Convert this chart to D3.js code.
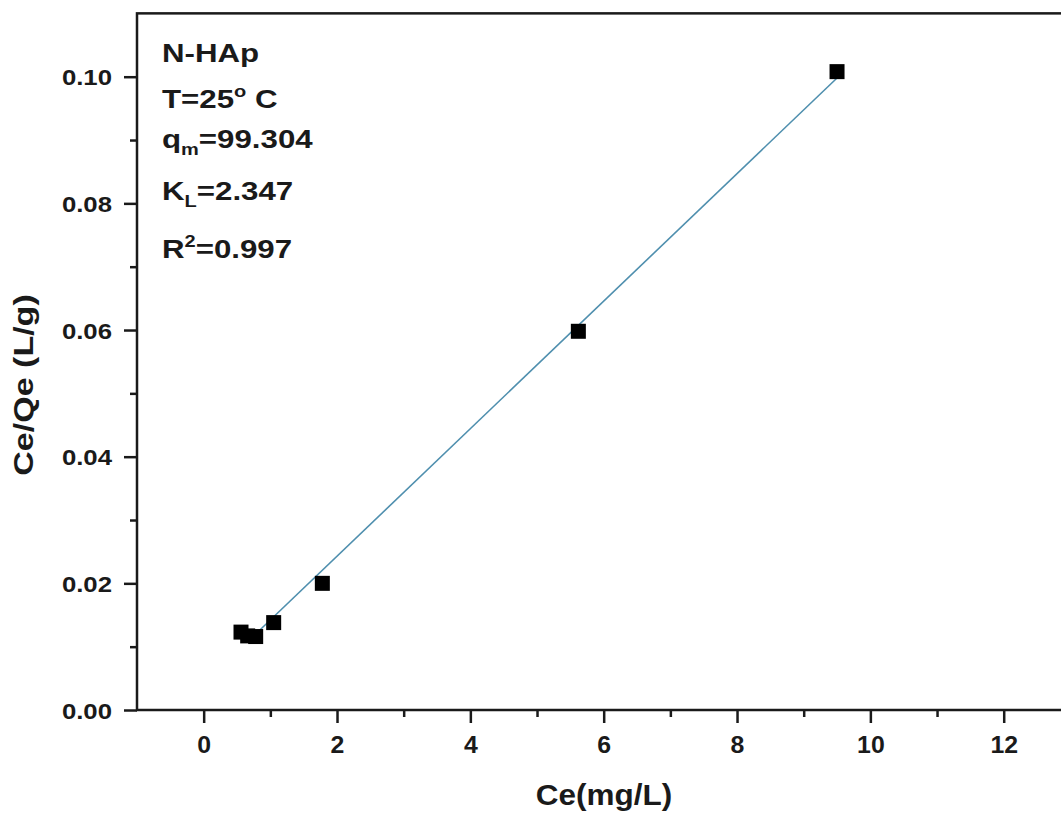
<!DOCTYPE html>
<html>
<head>
<meta charset="utf-8">
<script src="https://cdn.jsdelivr.net/npm/d3@7"></script>
<style>
  html, body { margin: 0; padding: 0; background: #ffffff; }
  svg { display: block; }
  text { font-family: "Liberation Sans", Arial, sans-serif; font-weight: bold; fill: #1a1a1a; }
</style>
</head>
<body>
<svg id="chart" width="1061" height="817"></svg>
<script>
// ---- data ----
const ceValues = [0.56, 0.66, 0.78, 1.05, 1.78, 5.62, 9.50];
const ceQeValues = [0.0123, 0.0117, 0.0116, 0.0138, 0.0200, 0.0598, 0.1008];
const fitCe = [0.78, 9.50];
const fitCeQe = [0.0120, 0.0998];
const xTickValues = [0, 2, 4, 6, 8, 10, 12];
const xMinorTicks = [1, 3, 5, 7, 9, 11];
const yTickValues = [0.00, 0.02, 0.04, 0.06, 0.08, 0.10];
const yMinorTicks = [0.01, 0.03, 0.05, 0.07, 0.09];
const xTitle = "Ce(mg/L)";
const yTitle = "Ce/Qe (L/g)";

const svg = d3.select("#chart");
const left = 137, bottom = 710;
const x = d3.scaleLinear().domain([-1, 13]).range([left, left + 14 * 66.67]);
const y = d3.scaleLinear().domain([0, 0.11]).range([bottom, bottom - 0.11 * 6333]);

const ink = "#1a1a1a";

// frame
svg.append("rect")
  .attr("x", x(-1)).attr("y", y(0.11))
  .attr("width", x(13) - x(-1)).attr("height", y(0) - y(0.11))
  .attr("fill", "none").attr("stroke", ink).attr("stroke-width", 2.5);

// x axis
const xAxis = svg.append("g").attr("transform", `translate(0,${bottom})`);
xAxis.call(d3.axisBottom(x).tickValues(xTickValues).tickSize(13).tickFormat(d3.format("d")))
  .call(g => g.select(".domain").remove());
xAxis.selectAll(".tick line").attr("stroke", ink).attr("stroke-width", 2.5);
xAxis.selectAll(".tick text").attr("font-size", 23).attr("y", 0).attr("dy", "0.71em")
  .attr("transform", "translate(0,27) scale(1.08,1)")
  .attr("font-family", "Liberation Sans, Arial, sans-serif").attr("font-weight", "bold").attr("fill", ink);
svg.append("g").attr("transform", `translate(0,${bottom})`)
  .call(d3.axisBottom(x).tickValues(xMinorTicks).tickSize(7).tickFormat(""))
  .call(g => g.select(".domain").remove())
  .selectAll(".tick line").attr("stroke", ink).attr("stroke-width", 2.5);

// y axis
const yAxis = svg.append("g").attr("transform", `translate(${left},0)`);
yAxis.call(d3.axisLeft(y).tickValues(yTickValues).tickSize(13).tickFormat(d3.format(".2f")))
  .call(g => g.select(".domain").remove());
yAxis.selectAll(".tick line").attr("stroke", ink).attr("stroke-width", 2.5);
yAxis.selectAll(".tick text").attr("font-size", 23).attr("x", 0).attr("dy", "0.36em")
  .attr("transform", "translate(-25,0) scale(1.12,1)")
  .attr("font-family", "Liberation Sans, Arial, sans-serif").attr("font-weight", "bold").attr("fill", ink);
svg.append("g").attr("transform", `translate(${left},0)`)
  .call(d3.axisLeft(y).tickValues(yMinorTicks).tickSize(7).tickFormat(""))
  .call(g => g.select(".domain").remove())
  .selectAll(".tick line").attr("stroke", ink).attr("stroke-width", 2.5);

// axis titles
svg.append("text").attr("transform", "translate(604,805) scale(1.05,1)").attr("text-anchor", "middle")
  .attr("font-size", 30).text(xTitle);
svg.append("text").attr("transform", "translate(33,385) rotate(-90) scale(1.26,1)").attr("text-anchor", "middle")
  .attr("font-size", 27).text(yTitle);

// fit line
const fitData = fitCe.map((c, i) => [c, fitCeQe[i]]);
svg.append("path").datum(fitData)
  .attr("d", d3.line().x(d => x(d[0])).y(d => y(d[1])))
  .attr("fill", "none").attr("stroke", "#4f8fae").attr("stroke-width", 1.6);

// points
const pts = ceValues.map((c, i) => [c, ceQeValues[i]]);
const s = 15;
svg.append("g").selectAll("rect").data(pts).join("rect")
  .attr("x", d => x(d[0]) - s / 2).attr("y", d => y(d[1]) - s / 2)
  .attr("width", s).attr("height", s).attr("fill", "#000");

// annotation (horizontally stretched like the reference)
const ax = 162, fs = 25, sfs = 16, sx = 1.25;
const ann = svg.append("g");
function line(yy) {
  return ann.append("text").attr("transform", `translate(${ax},${yy}) scale(${sx},1)`).attr("font-size", fs);
}
line(62).text("N-HAp");
const t2 = line(108);
t2.append("tspan").text("T=25");
t2.append("tspan").attr("font-size", sfs).attr("dy", -11).text("o");
t2.append("tspan").attr("dy", 11).text(" C");
const t3 = line(148);
t3.append("tspan").text("q");
t3.append("tspan").attr("font-size", sfs).attr("dy", 7).text("m");
t3.append("tspan").attr("dy", -7).text("=99.304");
const t4 = line(200);
t4.append("tspan").text("K");
t4.append("tspan").attr("font-size", sfs).attr("dy", 7).text("L");
t4.append("tspan").attr("dy", -7).text("=2.347");
const t5 = line(258);
t5.append("tspan").text("R");
t5.append("tspan").attr("font-size", sfs).attr("dy", -11).text("2");
t5.append("tspan").attr("dy", 11).text("=0.997");
</script>
</body>
</html>
